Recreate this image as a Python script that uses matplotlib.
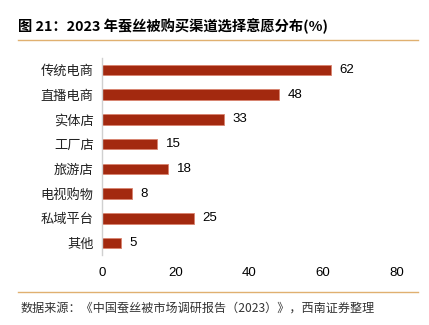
import matplotlib
matplotlib.use("Agg")
import matplotlib.pyplot as plt
from matplotlib.lines import Line2D

plt.rcParams['font.family'] = ['Noto Sans CJK SC', 'DejaVu Sans']

categories = ["传统电商", "直播电商", "实体店", "工厂店", "旅游店", "电视购物", "私域平台", "其他"]
values = [62, 48, 33, 15, 18, 8, 25, 5]
xticks = [0, 20, 40, 60, 80]

fig = plt.figure(figsize=(4.29, 3.25), dpi=100)
ax = fig.add_axes([0.238, 0.214, 0.687, 0.609])

ypos = list(range(len(categories)))
ax.barh(ypos, values, height=0.42, color="#A3290F", edgecolor="#D9836F", linewidth=0.6)
ax.set_ylim(len(categories) - 0.5, -0.5)
ax.set_xlim(0, 80)
ax.set_xticks(xticks)
ax.set_xticklabels([str(t) for t in xticks], family=['Liberation Sans', 'DejaVu Sans'], fontsize=9.5)
ax.set_yticks(ypos)
ax.set_yticklabels(categories, fontsize=9.5, color='#222222')
ax.tick_params(axis='both', length=0, pad=6)
ax.tick_params(axis='x', pad=8)
for s in ['top', 'right', 'bottom']:
    ax.spines[s].set_visible(False)
ax.spines['left'].set_color('#D0D0D0')
ax.spines['left'].set_linewidth(1.0)

for y, v in zip(ypos, values):
    ax.text(v + 2.3, y, str(v), va='center', ha='left', fontsize=9.5,
            family=['Liberation Sans', 'DejaVu Sans'])

fig.text(0.042, 0.92, "图 21：2023 年蚕丝被购买渠道选择意愿分布(%)", fontsize=10.3,
         fontweight='bold', va='center', ha='left')
fig.add_artist(Line2D([0.042, 0.975], [0.877, 0.877], color='#E0B070', linewidth=1.0))
fig.add_artist(Line2D([0.042, 0.975], [0.101, 0.101], color='#E0B070', linewidth=1.0))
fig.text(0.047, 0.052, "数据来源：《中国蚕丝被市场调研报告（2023）》，西南证券整理", fontsize=8.7,
         style='italic', va='center', ha='left', color='#333333')

fig.savefig("out.png", dpi=100)
